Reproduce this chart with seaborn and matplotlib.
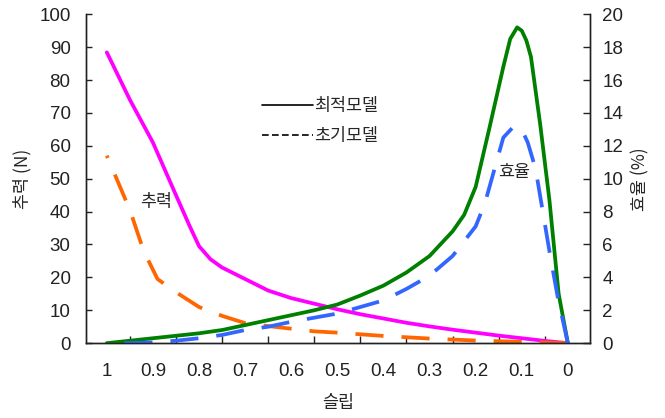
import numpy as np
import pandas as pd
import seaborn as sns
import matplotlib.pyplot as plt
from matplotlib.lines import Line2D

# 추력 (N), left axis
thrust_opt_slip = [1, 0.95, 0.9, 0.85, 0.82, 0.8, 0.775, 0.75, 0.7, 0.65, 0.6, 0.55, 0.5,
                   0.45, 0.4, 0.35, 0.3, 0.25, 0.2, 0.15, 0.1, 0.05, 0]
thrust_opt = [88.4, 74, 61, 45, 35.5, 29.5, 25.5, 23, 19.5, 16, 13.7, 12, 10.3,
              8.8, 7.5, 6.2, 5.1, 4.1, 3.2, 2.3, 1.5, 0.7, 0]
thrust_init_slip = [1, 0.95, 0.92, 0.89, 0.85, 0.8, 0.75, 0.7, 0.65, 0.6, 0.55, 0.5,
                    0.45, 0.4, 0.35, 0.3, 0.25, 0.2, 0.15, 0.1, 0.05, 0]
thrust_init = [57, 40.5, 28, 19.5, 15.5, 11, 8.3, 6.1, 5.2, 4.4, 3.6, 3.2,
               2.7, 2.2, 1.8, 1.4, 1.1, 0.8, 0.6, 0.4, 0.2, 0]

# 효율 (%), right axis
eff_opt_slip = [1, 0.95, 0.9, 0.85, 0.8, 0.75, 0.7, 0.65, 0.6, 0.55, 0.5, 0.45, 0.4, 0.35,
                0.3, 0.25, 0.225, 0.2, 0.17, 0.14, 0.125, 0.11, 0.1, 0.09, 0.08, 0.06, 0.04, 0.02, 0]
eff_opt = [0, 0.15, 0.3, 0.45, 0.6, 0.8, 1.1, 1.4, 1.7, 2.0, 2.35, 2.9, 3.5, 4.3,
           5.3, 6.8, 7.8, 9.5, 13.1, 16.8, 18.5, 19.2, 19.0, 18.4, 17.4, 13.3, 8.7, 3.0, 0]
eff_init_slip = [1, 0.95, 0.9, 0.85, 0.8, 0.75, 0.7, 0.65, 0.6, 0.55, 0.5, 0.45, 0.4, 0.35,
                 0.3, 0.25, 0.2, 0.18, 0.16, 0.14, 0.12, 0.11, 0.1, 0.087, 0.07, 0.055, 0.04, 0.022, 0]
eff_init = [0, 0, 0.05, 0.15, 0.3, 0.5, 0.8, 1.0, 1.3, 1.55, 1.8, 2.2, 2.6, 3.3,
            4.1, 5.3, 7.1, 8.5, 10.5, 12.5, 13.1, 13.2, 13.0, 12.2, 10.6, 8.1, 5.6, 2.8, 0]

x_labels = ["1", "0.9", "0.8", "0.7", "0.6", "0.5", "0.4", "0.3", "0.2", "0.1", "0"]

sns.set_style("ticks")
plt.rcParams["font.family"] = ["Noto Sans CJK KR", "DejaVu Sans"]
num_font = ["Liberation Sans", "DejaVu Sans"]

fig = plt.figure(figsize=(6.65, 4.18), dpi=100)
ax = fig.add_axes([0.129, 0.179, 0.758, 0.787])
ax2 = ax.twinx()

lw = 2.7
dash = (0, (7.5, 4.8))
sns.lineplot(x=thrust_opt_slip, y=thrust_opt, ax=ax, color="#FF00FF", lw=lw)
sns.lineplot(x=thrust_init_slip, y=thrust_init, ax=ax, color="#FF6600", lw=lw, linestyle=dash)
sns.lineplot(x=eff_opt_slip, y=eff_opt, ax=ax2, color="#008000", lw=lw)
sns.lineplot(x=eff_init_slip, y=eff_init, ax=ax2, color="#3366FF", lw=lw, linestyle=dash)

ax.set_xlim(1.0456, -0.0477)
ax.set_ylim(0, 100)
ax2.set_ylim(0, 20)
ax.set_yticks(range(0, 101, 10))
ax2.set_yticks(range(0, 21, 2))

ax.set_xticks([1 - i * 0.1 for i in range(11)])
ax.set_xticklabels(x_labels)
ax.set_xticks([0.95 - i * 0.1 for i in range(10)], minor=True)
ax.tick_params(axis="x", which="major", length=0, pad=14)
ax.tick_params(axis="x", which="minor", direction="in", length=5, width=1, color="#222222")
ax.tick_params(axis="y", direction="in", length=4, width=1, pad=11, color="#222222")
ax2.tick_params(axis="y", direction="in", length=5, width=1, pad=9, color="#222222")

for lab in ax.get_xticklabels() + ax.get_yticklabels() + ax2.get_yticklabels():
    lab.set_family(num_font)
    lab.set_fontsize(13.5)
    lab.set_color("#222222")

for a in (ax, ax2):
    a.spines["top"].set_visible(False)
    for s in ("left", "right", "bottom"):
        a.spines[s].set_color("#222222")
        a.spines[s].set_linewidth(1)

ax.set_xlabel("슬립", fontsize=12.5)
ax.set_ylabel("추력 (N)", fontsize=12.5)
ax2.set_ylabel("효율 (%)", fontsize=12.5)
ax.xaxis.set_label_coords(0.5, -0.155)
ax.yaxis.set_label_coords(-0.107, 0.5)
ax2.yaxis.set_label_coords(1.083, 0.5)

ax.text(0.892, 42.9, "추력", ha="center", va="center", fontsize=12.5)
ax2.text(0.117, 10.4, "효율", ha="center", va="center", fontsize=12.5)

handles = [Line2D([], [], color="black", lw=1.2),
           Line2D([], [], color="black", lw=1.2, linestyle=(0, (4, 2)))]
ax2.legend(handles, ["최적모델", "초기모델"], loc="upper left",
           bbox_to_anchor=(0.319, 0.795), frameon=False, fontsize=12.5,
           handlelength=2.9, handletextpad=0.1, labelspacing=0.68)

fig.savefig("out.png", dpi=100)
